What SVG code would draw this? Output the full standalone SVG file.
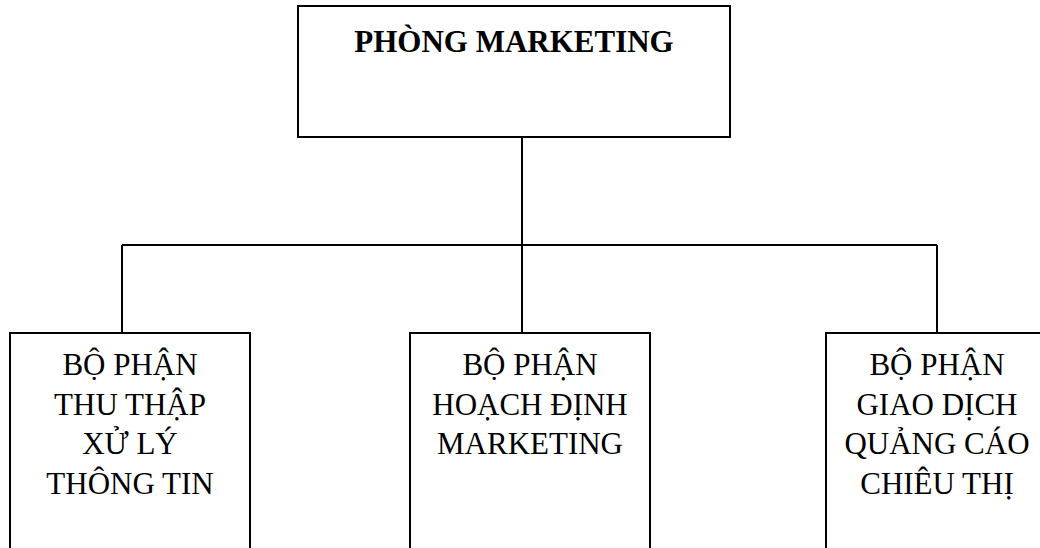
<svg xmlns="http://www.w3.org/2000/svg" width="1040" height="548" viewBox="0 0 1040 548">
<style>
.box{fill:#fff;stroke:#000;stroke-width:2}
.ln{fill:none;stroke:#000;stroke-width:2}
.t{font-family:"Liberation Serif","Times New Roman",serif;font-size:31px;fill:#000;text-anchor:middle}
.b{font-weight:bold}
</style>
<rect width="1040" height="548" fill="#fff"/>
<g id="connectors">
<path class="ln" d="M522 137V245M122 245H937M122 245V333M522 245V333M937 245V333"/>
</g>
<g id="phong-marketing">
<rect class="box" x="298" y="6" width="432" height="131"/>
<text class="t b" x="514" y="52">PHÒNG MARKETING</text>
</g>
<g id="bp-thu-thap">
<rect class="box" x="10" y="333" width="240" height="230"/>
<text class="t"><tspan x="130" y="375">BỘ PHẬN</tspan><tspan x="130" y="414.5">THU THẬP</tspan><tspan x="130" y="454">XỬ LÝ</tspan><tspan x="130" y="493.5">THÔNG TIN</tspan></text>
</g>
<g id="bp-hoach-dinh">
<rect class="box" x="410" y="333" width="240" height="230"/>
<text class="t"><tspan x="530" y="375">BỘ PHẬN</tspan><tspan x="530" y="414.5">HOẠCH ĐỊNH</tspan><tspan x="530" y="454">MARKETING</tspan></text>
</g>
<g id="bp-giao-dich">
<rect class="box" x="826" y="333" width="240" height="230"/>
<text class="t"><tspan x="937" y="375">BỘ PHẬN</tspan><tspan x="937" y="414.5">GIAO DỊCH</tspan><tspan x="937" y="454">QUẢNG CÁO</tspan><tspan x="937" y="493.5">CHIÊU THỊ</tspan></text>
</g>
</svg>
